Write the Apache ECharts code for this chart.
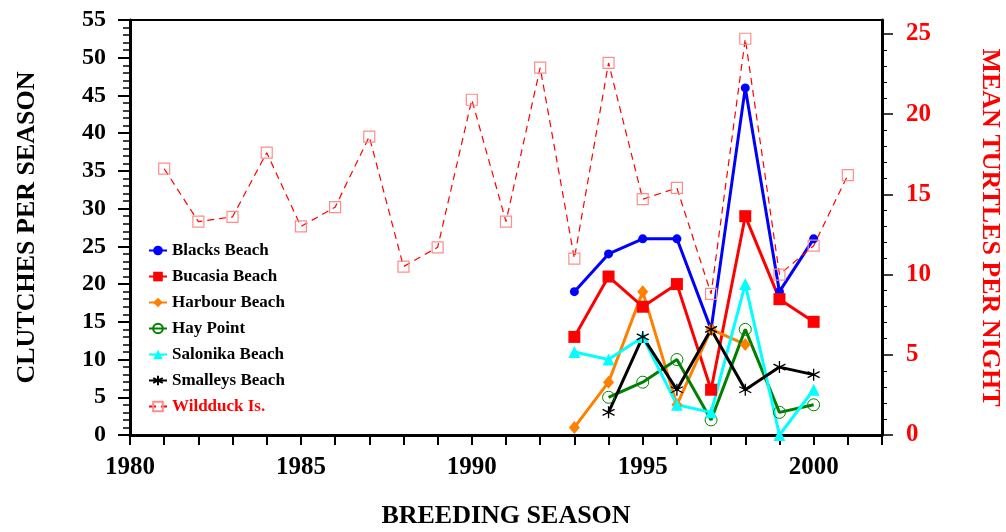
<!DOCTYPE html>
<html>
<head>
<meta charset="utf-8">
<script src="https://cdn.jsdelivr.net/npm/echarts@6/dist/echarts.min.js"></script>
<style>
  html, body { margin: 0; padding: 0; background: #fff; }
  #chart { width: 1006px; height: 532px; }
</style>
</head>
<body>
<div id="chart"></div>
<script>
// clutches per season (left axis)
const blacksYears = [1993, 1994, 1995, 1996, 1997, 1998, 1999, 2000];
const blacks = [19, 24, 26, 26, 14, 46, 19, 26];
const bucasiaYears = [1993, 1994, 1995, 1996, 1997, 1998, 1999, 2000];
const bucasia = [13, 21, 17, 20, 6, 29, 18, 15];
const harbourYears = [1993, 1994, 1995, 1996, 1997, 1998];
const harbour = [1, 7, 19, 4, 14, 12];
const hayYears = [1994, 1995, 1996, 1997, 1998, 1999, 2000];
const hay = [5, 7, 10, 2, 14, 3, 4];
const salonikaYears = [1993, 1994, 1995, 1996, 1997, 1998, 1999, 2000];
const salonika = [11, 10, 13, 4, 3, 20, 0, 6];
const smalleysYears = [1994, 1995, 1996, 1997, 1998, 1999, 2000];
const smalleys = [3, 13, 6, 14, 6, 9, 8];
// mean turtles per night (right axis)
const wildduckYears = [1981, 1982, 1983, 1984, 1985, 1986, 1987, 1988, 1989, 1990, 1991,
  1992, 1993, 1994, 1995, 1996, 1997, 1998, 1999, 2000, 2001];
const wildduck = [16.6, 13.3, 13.6, 17.6, 13.0, 14.2, 18.6, 10.5, 11.7, 20.9, 13.3,
  22.9, 11.0, 23.2, 14.7, 15.4, 8.8, 24.7, 10.0, 11.8, 16.2];

const rightMajor = [0, 5, 10, 15, 20, 25];
const rightMinor = [1, 2, 3, 4, 6, 7, 8, 9, 11, 12, 13, 14, 16, 17, 18, 19, 21, 22, 23, 24];

const font = 'Liberation Serif, Times New Roman, serif';

function pairs(xs, ys) {
  return xs.map((x, i) => [x, ys[i]]);
}

const asterisk = 'path://M5,0 L5,10 M0.7,2.5 L9.3,7.5 M0.7,7.5 L9.3,2.5';

let chart = echarts.init(document.getElementById('chart'));
chart.setOption({
  animation: false,
  grid: {
    left: 130, right: 124, top: 20, bottom: 97,
    outerBoundsMode: 'none',
    show: true, borderColor: '#000', borderWidth: 2
  },
  legend: {
    orient: 'vertical',
    left: 143, top: 237,
    itemWidth: 18, itemHeight: 12, itemGap: 9,
    textStyle: { fontFamily: font, fontWeight: 'bold', fontSize: 17, color: '#000', lineHeight: 17 },
    data: [
      'Blacks Beach', 'Bucasia Beach', 'Harbour Beach', 'Hay Point',
      'Salonika Beach', 'Smalleys Beach',
      { name: 'Wildduck Is.', textStyle: { color: '#ff0000' } }
    ]
  },
  xAxis: {
    type: 'value',
    min: 1980, max: 2002, interval: 1,
    name: 'BREEDING SEASON',
    nameLocation: 'middle',
    nameGap: 68,
    nameTextStyle: { fontFamily: font, fontWeight: 'bold', fontSize: 26, color: '#000' },
    axisLine: { lineStyle: { color: '#000', width: 3 } },
    axisTick: { length: 10, lineStyle: { color: '#000', width: 2 } },
    axisLabel: {
      margin: 20,
      fontFamily: font, fontWeight: 'bold', fontSize: 25, color: '#000',
      formatter: v => (v % 5 === 0 ? v : '')
    },
    splitLine: { show: false }
  },
  yAxis: [
    {
      type: 'value',
      min: 0, max: 55, interval: 5,
      position: 'left',
      name: 'CLUTCHES PER SEASON',
      nameLocation: 'middle',
      nameGap: 90,
      nameTextStyle: { fontFamily: font, fontWeight: 'bold', fontSize: 26, color: '#000' },
      axisLine: { show: true, lineStyle: { color: '#000', width: 3 } },
      axisTick: { length: 12, lineStyle: { color: '#000', width: 2 } },
      minorTick: { show: true, splitNumber: 5, length: 7, lineStyle: { color: '#000', width: 1.5 } },
      axisLabel: { margin: 24, fontFamily: font, fontWeight: 'bold', fontSize: 24, color: '#000' },
      splitLine: { show: false }
    },
    {
      type: 'value',
      min: 0, max: 25.87,
      position: 'right',
      name: 'MEAN TURTLES PER NIGHT',
      nameLocation: 'middle',
      nameRotate: -90,
      nameGap: 95,
      nameTextStyle: { fontFamily: font, fontWeight: 'bold', fontSize: 26, color: '#ff0000' },
      axisLine: { show: true, lineStyle: { color: '#000', width: 3 } },
      axisTick: { length: 11, customValues: rightMajor, lineStyle: { color: '#000', width: 1.5 } },
      axisLabel: { margin: 24, customValues: rightMajor, fontFamily: font, fontWeight: 'bold', fontSize: 25, color: '#ff0000' },
      splitLine: { show: false }
    },
    {
      type: 'value',
      min: 0, max: 25.87,
      position: 'right',
      axisLine: { show: false },
      axisTick: { length: 5, customValues: rightMinor, lineStyle: { color: '#000', width: 1 } },
      axisLabel: { show: false },
      splitLine: { show: false }
    }
  ],
  series: [
    {
      name: 'Blacks Beach', type: 'line', yAxisIndex: 0,
      data: pairs(blacksYears, blacks),
      symbol: 'circle', symbolSize: 9,
      lineStyle: { color: '#0000ff', width: 3 },
      itemStyle: { color: '#0000ff' }
    },
    {
      name: 'Bucasia Beach', type: 'line', yAxisIndex: 0,
      data: pairs(bucasiaYears, bucasia),
      symbol: 'rect', symbolSize: 12,
      lineStyle: { color: '#ff0000', width: 3 },
      itemStyle: { color: '#ff0000' }
    },
    {
      name: 'Harbour Beach', type: 'line', yAxisIndex: 0,
      data: pairs(harbourYears, harbour),
      symbol: 'diamond', symbolSize: [11, 13],
      lineStyle: { color: '#ff8000', width: 3 },
      itemStyle: { color: '#ff8000' }
    },
    {
      name: 'Hay Point', type: 'line', yAxisIndex: 0,
      data: pairs(hayYears, hay),
      symbol: 'circle', symbolSize: 12,
      lineStyle: { color: '#008000', width: 3 },
      itemStyle: { color: 'rgba(0,0,0,0)', borderColor: '#008000', borderWidth: 1 }
    },
    {
      name: 'Salonika Beach', type: 'line', yAxisIndex: 0,
      data: pairs(salonikaYears, salonika),
      symbol: 'triangle', symbolSize: 12,
      lineStyle: { color: '#00ffff', width: 3 },
      itemStyle: { color: '#00ffff' }
    },
    {
      name: 'Smalleys Beach', type: 'line', yAxisIndex: 0,
      data: pairs(smalleysYears, smalleys),
      symbol: asterisk, symbolSize: 12,
      lineStyle: { color: '#000', width: 3 },
      itemStyle: { color: 'rgba(0,0,0,0)', borderColor: '#000', borderWidth: 1.3 }
    },
    {
      name: 'Wildduck Is.', type: 'line', yAxisIndex: 1,
      data: pairs(wildduckYears, wildduck),
      symbol: 'rect', symbolSize: 11,
      lineStyle: { color: '#ff0000', width: 1.2, type: [7, 5] },
      itemStyle: { color: 'rgba(0,0,0,0)', borderColor: '#ff8c8c', borderWidth: 1.2 }
    }
  ]
});
</script>
</body>
</html>
